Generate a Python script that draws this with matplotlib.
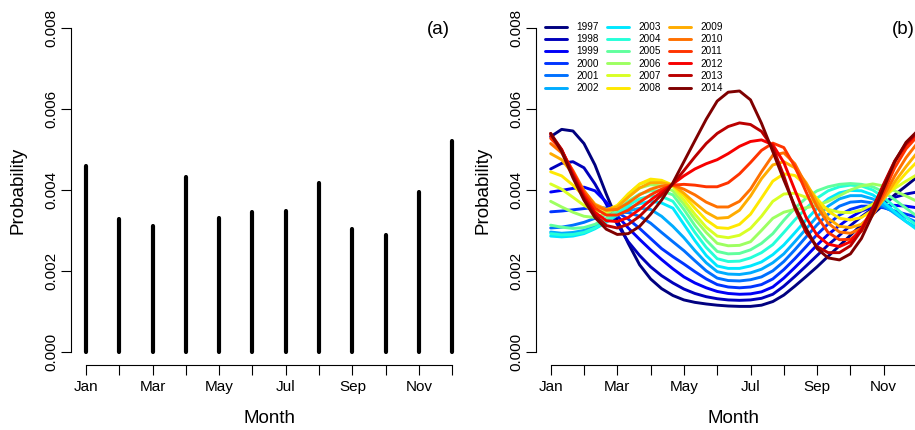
import matplotlib
matplotlib.use("Agg")
import matplotlib.pyplot as plt
from matplotlib.colors import LinearSegmentedColormap

plt.rcParams['font.family'] = ['Liberation Sans', 'DejaVu Sans']

# ---- panel (a): probability per month ----
month_num = [1, 2, 3, 4, 5, 6, 7, 8, 9, 10, 11, 12]
month_prob = [0.00460, 0.00328, 0.00311, 0.00431, 0.00330, 0.00346,
              0.00348, 0.00418, 0.00304, 0.00288, 0.00396, 0.00521]
month_labels = ["Jan", "", "Mar", "", "May", "", "Jul", "", "Sep", "", "Nov", ""]

# ---- panel (b): seasonal curve per year, read every third of a month (x 1e-3) ----
grid = [1.00, 1.33, 1.67, 2.00, 2.33, 2.67, 3.00, 3.33, 3.67, 4.00, 4.33, 4.67,
        5.00, 5.33, 5.67, 6.00, 6.33, 6.67, 7.00, 7.33, 7.67, 8.00, 8.33, 8.67,
        9.00, 9.33, 9.67, 10.00, 10.33, 10.67, 11.00, 11.33, 11.67, 12.00]
years = [1997, 1998, 1999, 2000, 2001, 2002, 2003, 2004, 2005,
         2006, 2007, 2008, 2009, 2010, 2011, 2012, 2013, 2014]

p1997 = [5.32, 5.50, 5.46, 5.15, 4.62, 3.90, 3.25, 2.68, 2.15, 1.80, 1.56, 1.39,
         1.28, 1.22, 1.18, 1.15, 1.13, 1.12, 1.12, 1.15, 1.24, 1.40, 1.62, 1.86,
         2.10, 2.36, 2.62, 2.88, 3.14, 3.40, 3.64, 3.88, 4.10, 4.32]
p1998 = [4.52, 4.66, 4.70, 4.55, 4.15, 3.65, 3.15, 2.72, 2.38, 2.10, 1.88, 1.70,
         1.55, 1.44, 1.36, 1.31, 1.28, 1.27, 1.28, 1.32, 1.42, 1.62, 1.86, 2.12,
         2.38, 2.64, 2.88, 3.12, 3.34, 3.54, 3.70, 3.82, 3.90, 3.95]
p1999 = [3.95, 3.99, 4.04, 4.07, 3.98, 3.70, 3.36, 3.06, 2.78, 2.52, 2.28, 2.05,
         1.85, 1.70, 1.58, 1.49, 1.44, 1.42, 1.43, 1.48, 1.60, 1.82, 2.08, 2.36,
         2.64, 2.90, 3.12, 3.32, 3.48, 3.58, 3.62, 3.62, 3.60, 3.56]
p2000 = [3.46, 3.48, 3.51, 3.54, 3.57, 3.55, 3.45, 3.28, 3.05, 2.80, 2.55, 2.35,
         2.17, 1.98, 1.80, 1.66, 1.60, 1.58, 1.60, 1.66, 1.80, 2.03, 2.30, 2.60,
         2.90, 3.16, 3.38, 3.52, 3.60, 3.60, 3.56, 3.48, 3.40, 3.33]
p2001 = [3.06, 3.08, 3.13, 3.20, 3.30, 3.40, 3.45, 3.44, 3.35, 3.18, 2.95, 2.72,
         2.50, 2.25, 2.00, 1.82, 1.76, 1.75, 1.78, 1.85, 2.00, 2.23, 2.52, 2.84,
         3.14, 3.40, 3.60, 3.70, 3.72, 3.68, 3.58, 3.45, 3.32, 3.20]
p2002 = [2.96, 2.93, 2.95, 3.00, 3.10, 3.25, 3.38, 3.48, 3.55, 3.52, 3.35, 3.10,
         2.82, 2.50, 2.20, 1.98, 1.92, 1.91, 1.95, 2.04, 2.20, 2.42, 2.72, 3.04,
         3.34, 3.60, 3.78, 3.86, 3.86, 3.78, 3.62, 3.42, 3.22, 3.06]
p2003 = [2.86, 2.84, 2.86, 2.92, 3.04, 3.20, 3.38, 3.55, 3.66, 3.72, 3.68, 3.55,
         3.15, 2.75, 2.38, 2.12, 2.06, 2.06, 2.12, 2.22, 2.40, 2.64, 2.94, 3.26,
         3.55, 3.78, 3.93, 3.99, 3.98, 3.88, 3.70, 3.46, 3.22, 3.02]
p2004 = [2.92, 2.89, 2.90, 2.95, 3.06, 3.22, 3.42, 3.62, 3.78, 3.85, 3.84, 3.72,
         3.35, 2.95, 2.58, 2.30, 2.23, 2.24, 2.32, 2.45, 2.65, 2.95, 3.26, 3.55,
         3.80, 3.98, 4.08, 4.12, 4.10, 4.00, 3.82, 3.58, 3.33, 3.12]
p2005 = [3.13, 3.08, 3.05, 3.07, 3.15, 3.30, 3.50, 3.72, 3.90, 3.98, 3.98, 3.88,
         3.52, 3.12, 2.76, 2.48, 2.42, 2.43, 2.52, 2.68, 2.92, 3.25, 3.55, 3.80,
         3.98, 4.08, 4.14, 4.16, 4.14, 4.08, 3.95, 3.76, 3.55, 3.35]
p2006 = [3.72, 3.58, 3.45, 3.35, 3.32, 3.40, 3.58, 3.85, 4.05, 4.13, 4.10, 3.98,
         3.65, 3.28, 2.95, 2.68, 2.62, 2.63, 2.72, 3.00, 3.30, 3.45, 3.52, 3.56,
         3.62, 3.72, 3.86, 4.00, 4.10, 4.15, 4.10, 3.98, 3.85, 3.72]
p2007 = [4.15, 4.02, 3.82, 3.62, 3.48, 3.45, 3.60, 3.90, 4.14, 4.24, 4.22, 4.08,
         3.75, 3.40, 3.08, 2.86, 2.82, 2.88, 3.05, 3.35, 3.72, 3.90, 3.92, 3.82,
         3.66, 3.52, 3.45, 3.44, 3.50, 3.65, 3.84, 4.04, 4.22, 4.38]
p2008 = [4.45, 4.35, 4.12, 3.85, 3.60, 3.50, 3.62, 3.90, 4.15, 4.27, 4.24, 4.12,
         3.86, 3.55, 3.26, 3.07, 3.05, 3.15, 3.40, 3.80, 4.22, 4.40, 4.36, 4.12,
         3.78, 3.48, 3.30, 3.26, 3.32, 3.50, 3.78, 4.10, 4.42, 4.70]
p2009 = [4.90, 4.75, 4.40, 3.98, 3.65, 3.52, 3.58, 3.82, 4.05, 4.18, 4.18, 4.12,
         3.92, 3.68, 3.45, 3.30, 3.32, 3.50, 3.85, 4.28, 4.62, 4.70, 4.55, 4.18,
         3.70, 3.30, 3.10, 3.07, 3.15, 3.40, 3.78, 4.20, 4.58, 4.92]
p2010 = [5.15, 4.92, 4.48, 3.98, 3.62, 3.50, 3.52, 3.68, 3.88, 4.02, 4.10, 4.12,
         4.02, 3.88, 3.70, 3.58, 3.58, 3.72, 4.02, 4.45, 4.86, 4.92, 4.65, 4.12,
         3.58, 3.18, 2.96, 2.93, 3.05, 3.38, 3.85, 4.35, 4.80, 5.15]
p2011 = [5.28, 4.98, 4.45, 3.92, 3.55, 3.38, 3.38, 3.50, 3.70, 3.88, 4.02, 4.12,
         4.14, 4.12, 4.08, 4.08, 4.18, 4.40, 4.68, 4.98, 5.16, 5.05, 4.58, 3.95,
         3.35, 2.95, 2.77, 2.78, 2.98, 3.40, 3.95, 4.55, 5.02, 5.32]
p2012 = [5.36, 5.00, 4.40, 3.85, 3.45, 3.24, 3.22, 3.32, 3.52, 3.75, 3.95, 4.15,
         4.35, 4.52, 4.65, 4.75, 4.90, 5.08, 5.20, 5.24, 5.12, 4.68, 4.00, 3.32,
         2.88, 2.66, 2.60, 2.72, 3.05, 3.55, 4.12, 4.70, 5.12, 5.40]
p2013 = [5.40, 5.00, 4.35, 3.80, 3.38, 3.12, 3.06, 3.15, 3.35, 3.62, 3.88, 4.15,
         4.48, 4.82, 5.15, 5.40, 5.57, 5.66, 5.62, 5.45, 5.05, 4.35, 3.55, 2.95,
         2.60, 2.45, 2.45, 2.62, 3.00, 3.55, 4.15, 4.72, 5.15, 5.42]
p2014 = [5.40, 4.95, 4.30, 3.75, 3.32, 3.03, 2.90, 2.92, 3.10, 3.40, 3.75, 4.18,
         4.70, 5.22, 5.75, 6.20, 6.42, 6.45, 6.23, 5.65, 4.95, 4.25, 3.60, 3.05,
         2.55, 2.32, 2.27, 2.42, 2.80, 3.40, 4.05, 4.70, 5.18, 5.45]

curves = [p1997, p1998, p1999, p2000, p2001, p2002, p2003, p2004, p2005,
          p2006, p2007, p2008, p2009, p2010, p2011, p2012, p2013, p2014]

# R style jet.colors palette
jet = LinearSegmentedColormap.from_list(
    "jet_r_style", ["#00007F", "blue", "#007FFF", "cyan", "#7FFF7F",
                    "yellow", "#FF7F00", "red", "#7F0000"])

W, H = 915, 430
fig = plt.figure(figsize=(W / 100, H / 100), dpi=100)

ax_w, ax_h = 395.7, 349.2
ax_bottom = (H - 364.6) / H
ax1 = fig.add_axes([71.3 / W, ax_bottom, ax_w / W, ax_h / H])
ax2 = fig.add_axes([536.0 / W, ax_bottom, ax_w / W, ax_h / H])


def style_axes(ax):
    ax.set_xlim(0.56, 12.44)
    ax.set_ylim(-0.00032, 0.00832)
    for side in ["top", "right"]:
        ax.spines[side].set_visible(False)
    ax.spines["left"].set_bounds(0, 0.008)
    ax.spines["bottom"].set_bounds(1, 12)
    for side in ["left", "bottom"]:
        ax.spines[side].set_linewidth(0.8)
    ax.set_yticks([0, 0.002, 0.004, 0.006, 0.008])
    ax.set_yticklabels(["0.000", "0.002", "0.004", "0.006", "0.008"],
                       rotation=90, va="center")
    ax.set_xticks(month_num)
    ax.set_xticklabels(month_labels)
    ax.tick_params(axis="both", direction="out", length=7, width=0.8,
                   labelsize=11)
    ax.tick_params(axis="x", pad=4)
    ax.tick_params(axis="y", pad=2)


# -------------------------
# PANEL (a)
# -------------------------
ax1.vlines(month_num, 0, month_prob, color="black", linewidth=3,
           capstyle="round")
style_axes(ax1)
ax1.text(0.927, 0.961, "(a)", transform=ax1.transAxes, ha="center",
         va="center", fontsize=13.5)

# -------------------------
# PANEL (b)
# -------------------------
n = len(years)
for i, (yr, vals) in enumerate(zip(years, curves)):
    ax2.plot(grid, [v / 1000 for v in vals], color=jet(i / (n - 1)),
             linewidth=2.1, solid_capstyle="round", solid_joinstyle="round",
             label=str(yr))
style_axes(ax2)
ax2.text(0.927, 0.961, "(b)", transform=ax2.transAxes, ha="center",
         va="center", fontsize=13.5)

ax2.legend(loc="upper left", bbox_to_anchor=(545 / W, 1 - 22 / H),
           bbox_transform=fig.transFigure, ncol=3, frameon=False,
           fontsize=7.2, handlelength=2.2, handletextpad=0.9,
           columnspacing=0.85, labelspacing=0.22, borderpad=0,
           borderaxespad=0)

# axis titles
for cx in [269.2, 733.8]:
    fig.text(cx / W, 1 - 418.3 / H, "Month", ha="center", va="center",
             fontsize=13.5)
for cx in [18.0, 482.7]:
    fig.text(cx / W, 1 - 190.8 / H, "Probability", ha="center", va="center",
             rotation=90, fontsize=13.5)

fig.savefig("out.png", dpi=100)
